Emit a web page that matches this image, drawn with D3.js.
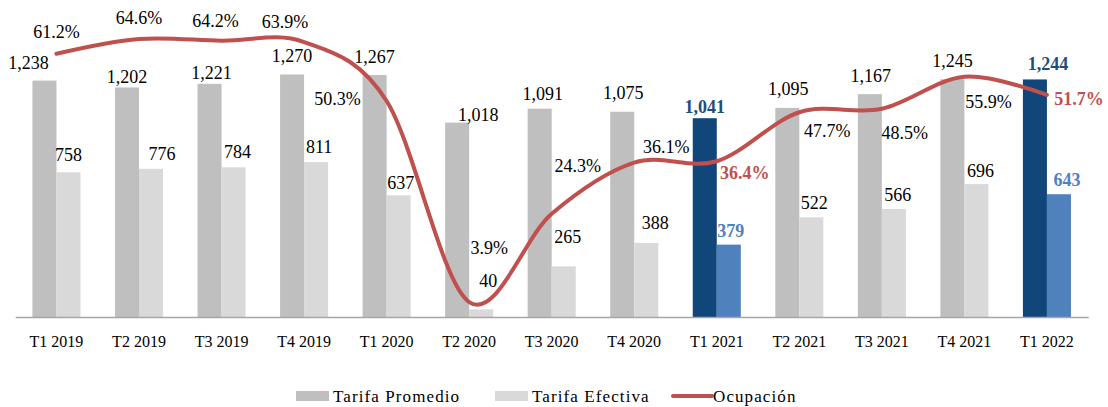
<!DOCTYPE html>
<html><head><meta charset="utf-8">
<script src="https://cdn.jsdelivr.net/npm/d3@7"></script>
<style>html,body{margin:0;padding:0;background:#fff;}</style>
</head><body><svg id="chart" width="1108" height="407" font-family="Liberation Serif"></svg>
<script>
// ---------- data ----------
const categories = ["T1 2019","T2 2019","T3 2019","T4 2019","T1 2020","T2 2020","T3 2020","T4 2020","T1 2021","T2 2021","T3 2021","T4 2021","T1 2022"];
const tarifaPromedio = [1238,1202,1221,1270,1267,1018,1091,1075,1041,1095,1167,1245,1244];
const tarifaEfectiva = [758,776,784,811,637,40,265,388,379,522,566,696,643];
const ocupacion = [61.2,64.6,64.2,63.9,50.3,3.9,24.3,36.1,36.4,47.7,48.5,55.9,51.7];
const highlighted = ["T1 2021","T1 2022"];
const seriesNames = ["Tarifa Promedio","Tarifa Efectiva","Ocupación"];

// ---------- layout / style ----------
const FONT = "Liberation Serif";
const baseY = 317;
const colors = {prom:"#BFBFBF", ef:"#D9D9D9", promHi:"#104679", efHi:"#4F81BD", line:"#C0504D",
  promHiText:"#1F4E79", efHiText:"#4F81BD", lineHiText:"#C0504D"};
// manual label nudges (dx, dy from anchor to text centre), as placed in the original
const promNudge = [[-16,-18],[0,-10],[2,-11],[0,-18],[0,-18],[21,-8],[3,-15],[1,-19],[0,-11],[1,-19],[1,-18],[0,-18],[13,-15]];
const efNudge = [[0,-17],[11,-15],[4,-15],[3,-15],[2,-12],[7,-28],[4,-29],[9,-20],[2,-14],[3,-14],[4,-14],[4,-13],[8,-14]];
const ocNudge = [[0,-22],[0,-21],[-6,-20],[-19,-20],[-49,-2],[20,-54],[26,-48],[32,-16],[28,12],[28,19],[23,24],[24,25],[32,4]];

const svg = d3.select("#chart");
const x = d3.scaleBand().domain(categories).range([15.2,1088.2]).paddingInner(0.418).paddingOuter(0.209);
const xs = d3.scaleBand().domain(["p","e"]).range([0,x.bandwidth()]);
const y = d3.scaleLinear().domain([0,1660]).range([baseY,0]);
const y2 = d3.scaleLinear().domain([0,73.6]).range([319,0]);
const fmt = d3.format(",");
const pct = d => d3.format(".1f")(d) + "%";
const isHi = c => highlighted.includes(c);

const rows = categories.map((c,i)=>({c, p:tarifaPromedio[i], e:tarifaEfectiva[i], o:ocupacion[i], i}));

// bars
const g = svg.append("g");
g.selectAll("rect.p").data(rows).join("rect")
  .attr("x", d=>x(d.c)+xs("p")).attr("width", xs.bandwidth())
  .attr("y", d=>y(d.p)).attr("height", d=>baseY-y(d.p))
  .attr("fill", d=>isHi(d.c)?colors.promHi:colors.prom);
g.selectAll("rect.e").data(rows).join("rect")
  .attr("x", d=>x(d.c)+xs("e")).attr("width", xs.bandwidth())
  .attr("y", d=>y(d.e)).attr("height", d=>baseY-y(d.e))
  .attr("fill", d=>isHi(d.c)?colors.efHi:colors.ef);

// x axis
const xAxis = d3.axisBottom(x).tickSize(0).tickPadding(19);
const ax = svg.append("g").attr("transform",`translate(0,${baseY})`).call(xAxis)
  .attr("font-family",FONT).attr("font-size",16);
ax.select(".domain").attr("stroke","#A6A6A6").attr("stroke-width",1.5);
ax.selectAll("text").attr("fill","#000");

// line
const cx = d => x(d.c)+x.bandwidth()/2;
const line = d3.line().x(cx).y(d=>y2(d.o)).curve(d3.curveCardinal.tension(0));
svg.append("path").datum(rows).attr("d",line).attr("fill","none")
  .attr("stroke",colors.line).attr("stroke-width",4).attr("stroke-linecap","round");

// labels
const lab = svg.append("g").attr("font-family",FONT).attr("font-size",18).attr("text-anchor","middle");
lab.selectAll("text.p").data(rows).join("text")
  .attr("x", d=>x(d.c)+xs("p")+xs.bandwidth()/2+promNudge[d.i][0])
  .attr("y", d=>y(d.p)+promNudge[d.i][1]+6)
  .attr("fill", d=>isHi(d.c)?colors.promHiText:"#000")
  .attr("font-weight", d=>isHi(d.c)?"bold":"normal")
  .text(d=>fmt(d.p));
lab.selectAll("text.e").data(rows).join("text")
  .attr("x", d=>x(d.c)+xs("e")+xs.bandwidth()/2+efNudge[d.i][0])
  .attr("y", d=>y(d.e)+efNudge[d.i][1]+6)
  .attr("fill", d=>isHi(d.c)?colors.efHiText:"#000")
  .attr("font-weight", d=>isHi(d.c)?"bold":"normal")
  .text(d=>fmt(d.e));
lab.selectAll("text.o").data(rows).join("text")
  .attr("x", d=>cx(d)+ocNudge[d.i][0])
  .attr("y", d=>y2(d.o)+ocNudge[d.i][1]+6)
  .attr("fill", d=>isHi(d.c)?colors.lineHiText:"#000")
  .attr("font-weight", d=>isHi(d.c)?"bold":"normal")
  .text(d=>pct(d.o));

// legend
const lg = svg.append("g").attr("font-family",FONT).attr("font-size",17).attr("letter-spacing","1.1px");
const legendItems = [
  {name:seriesNames[0], type:"rect", color:colors.prom, x:296},
  {name:seriesNames[1], type:"rect", color:colors.ef, x:495},
  {name:seriesNames[2], type:"line", color:colors.line, x:673}
];
legendItems.forEach(it=>{
  if(it.type==="rect"){
    lg.append("rect").attr("x",it.x).attr("y",391).attr("width",33).attr("height",10).attr("fill",it.color);
    lg.append("text").attr("x",it.x+37).attr("y",402).text(it.name);
  } else {
    lg.append("line").attr("x1",it.x).attr("x2",it.x+39).attr("y1",396).attr("y2",396)
      .attr("stroke",it.color).attr("stroke-width",4).attr("stroke-linecap","round");
    lg.append("text").attr("x",it.x+40).attr("y",402).text(it.name);
  }
});
</script></body></html>
